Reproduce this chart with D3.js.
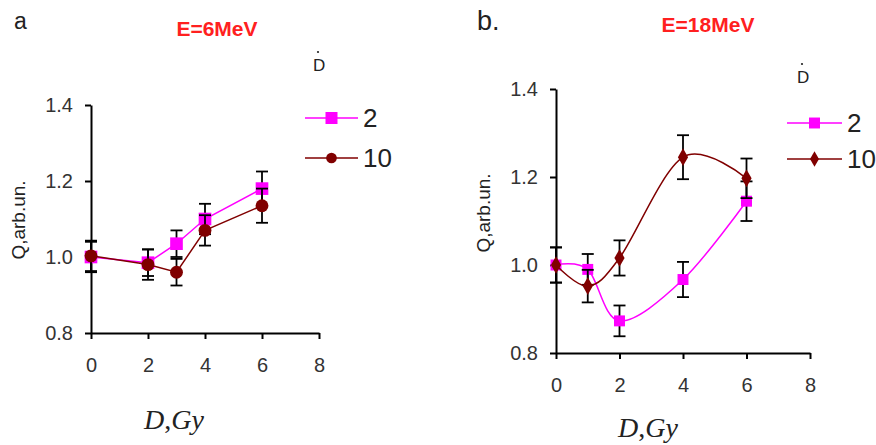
<!DOCTYPE html>
<html>
<head>
<meta charset="utf-8">
<script src="https://cdn.jsdelivr.net/npm/d3@7"></script>
<style>
  body { margin: 0; background: #fff; }
  svg { display: block; }
</style>
</head>
<body>
<svg id="chart" width="876" height="445"></svg>
<script>
"use strict";

// axes
var xTickValues = [0, 2, 4, 6, 8];
var yTickValues = [0.8, 1.0, 1.2, 1.4];

// panel a, E=6MeV
var doseA = [0, 2, 3, 4, 6];
var qA2 = [1.0, 0.985, 1.035, 1.10, 1.18];
var errA2 = [0.04, 0.035, 0.035, 0.04, 0.045];
var qA10 = [1.003, 0.98, 0.96, 1.07, 1.135];
var errA10 = [0.04, 0.04, 0.035, 0.04, 0.045];

// panel b, E=18MeV
var doseB = [0, 1, 2, 4, 6];
var qB2 = [1.0, 0.99, 0.873, 0.967, 1.145];
var errB2 = [0.04, 0.035, 0.035, 0.04, 0.045];
var qB10 = [1.0, 0.952, 1.016, 1.245, 1.197];
var errB10 = [0.04, 0.037, 0.04, 0.05, 0.045];

var seriesNames = ['2', '10'];
var MAGENTA = '#ff00ff', MAROON = '#800000';
var SANS = 'Arial, "Liberation Sans", sans-serif';
var SERIF = '"Times New Roman", "Liberation Serif", serif';

var svg = d3.select('#chart');

function zip(xs, ys, es) {
    return xs.map(function(x, i) { return { x: x, y: ys[i], e: es[i] }; });
}

/**
 * Draw one panel
 */
function drawPanel(opt) {
    var x = d3.scaleLinear().domain([0, 8]).range(opt.xRange);
    var y = d3.scaleLinear().domain([0.8, 1.4]).range(opt.yRange);
    var g = svg.append('g');

    // axes
    var xAxis = g.append('g')
        .attr('transform', 'translate(0,' + opt.yRange[0] + ')')
        .call(d3.axisBottom(x).tickValues(xTickValues).tickSize(6).tickSizeOuter(0).tickPadding(19));
    var yAxis = g.append('g')
        .attr('transform', 'translate(' + opt.xRange[0] + ',0)')
        .call(d3.axisLeft(y).tickValues(yTickValues).tickSize(6).tickSizeOuter(0).tickPadding(12)
            .tickFormat(d3.format('.1f')));
    [xAxis, yAxis].forEach(function(a) {
        a.attr('font-size', 20).attr('font-family', SANS);
        a.select('.domain').attr('stroke', '#000').attr('stroke-width', 2);
        a.selectAll('.tick line').attr('stroke', '#000').attr('stroke-width', 2);
        a.selectAll('.tick text').attr('fill', '#333');
    });

    var line = d3.line()
        .x(function(d) { return x(d.x); })
        .y(function(d) { return y(d.y); })
        .curve(opt.curve);

    opt.series.forEach(function(s) {
        var pts = zip(opt.dose, s.q, s.err);

        g.append('path')
            .datum(pts)
            .attr('fill', 'none')
            .attr('stroke', s.color)
            .attr('stroke-width', 1.5)
            .attr('d', line);

        var eb = g.append('g').selectAll('g').data(pts).join('g');
        eb.append('line')
            .attr('x1', function(d) { return x(d.x); })
            .attr('x2', function(d) { return x(d.x); })
            .attr('y1', function(d) { return y(d.y - d.e); })
            .attr('y2', function(d) { return y(d.y + d.e); })
            .attr('stroke', '#000').attr('stroke-width', 1.8);
        [-1, 1].forEach(function(sign) {
            eb.append('line')
                .attr('x1', function(d) { return x(d.x) - 6; })
                .attr('x2', function(d) { return x(d.x) + 6; })
                .attr('y1', function(d) { return y(d.y + sign * d.e); })
                .attr('y2', function(d) { return y(d.y + sign * d.e); })
                .attr('stroke', '#000').attr('stroke-width', 1.8);
        });

        g.append('g').selectAll('path').data(pts).join('path')
            .attr('transform', function(d) { return 'translate(' + x(d.x) + ',' + y(d.y) + ')'; })
            .attr('d', d3.symbol().type(s.symbol).size(s.size))
            .attr('fill', s.color);
    });

    // legend
    var lg = g.append('g').attr('transform', 'translate(' + opt.legend[0] + ',' + opt.legend[1] + ')');
    lg.append('text')
        .attr('x', opt.legendD[0]).attr('y', opt.legendD[1])
        .attr('font-family', SANS).attr('font-size', 17).attr('fill', '#222')
        .text('D');
    lg.append('circle')
        .attr('cx', opt.legendD[0] + 5).attr('cy', opt.legendD[1] - 19).attr('r', 1.1)
        .attr('fill', '#222');
    opt.series.forEach(function(s, i) {
        var row = lg.append('g').attr('transform', 'translate(0,' + (i * opt.legendGap) + ')');
        row.append('line')
            .attr('x1', 0).attr('x2', opt.legendLen).attr('y1', 0).attr('y2', 0)
            .attr('stroke', s.color).attr('stroke-width', 1.5);
        row.append('path')
            .attr('transform', 'translate(' + opt.legendLen / 2 + ',0)')
            .attr('d', d3.symbol().type(s.symbol).size(s.legendSize))
            .attr('fill', s.color);
        row.append('text')
            .attr('x', opt.legendLen + 5).attr('y', 9)
            .attr('font-family', SANS).attr('font-size', 26).attr('fill', '#222')
            .text(seriesNames[i]);
    });

    // panel letter, energy title
    g.append('text')
        .attr('x', opt.letter[0]).attr('y', opt.letter[1])
        .attr('font-family', SANS).attr('font-size', opt.letterSize)
        .attr('fill', '#222')
        .text(opt.letterText);
    g.append('text')
        .attr('x', opt.title[0]).attr('y', opt.title[1])
        .attr('text-anchor', 'middle')
        .attr('font-family', SANS).attr('font-size', 21).attr('font-weight', 'bold')
        .attr('fill', '#ff2020')
        .text(opt.titleText);

    // axis titles
    g.append('text')
        .attr('transform', 'translate(' + opt.yLabel[0] + ',' + opt.yLabel[1] + ') rotate(-90)')
        .attr('text-anchor', 'middle')
        .attr('font-family', SANS).attr('font-size', 19).attr('fill', '#222')
        .text('Q,arb.un.');
    var xl = g.append('text')
        .attr('x', opt.xLabel[0]).attr('y', opt.xLabel[1])
        .attr('text-anchor', 'middle')
        .attr('font-family', SERIF).attr('font-size', 28)
        .attr('font-style', 'italic').attr('fill', '#222');
    xl.append('tspan').text('D');
    xl.append('tspan').attr('font-style', 'normal').text(',');
    xl.append('tspan').text('Gy');
}

drawPanel({
    xRange: [91, 319], yRange: [333, 105],
    dose: doseA,
    curve: d3.curveLinear,
    series: [
        { q: qA2, err: errA2, color: MAGENTA, symbol: d3.symbolSquare, size: 160, legendSize: 144 },
        { q: qA10, err: errA10, color: MAROON, symbol: d3.symbolCircle, size: 130, legendSize: 90 }
    ],
    legend: [305, 118], legendLen: 53, legendGap: 40, legendD: [8, -47],
    letter: [14, 29], letterSize: 23, letterText: 'a',
    title: [217, 36], titleText: 'E=6MeV',
    yLabel: [25, 220],
    xLabel: [174, 429]
});

drawPanel({
    xRange: [556, 810], yRange: [353, 89],
    dose: doseB,
    curve: d3.curveCardinal.tension(0),
    series: [
        { q: qB2, err: errB2, color: MAGENTA, symbol: d3.symbolSquare, size: 120, legendSize: 120 },
        { q: qB10, err: errB10, color: MAROON, symbol: d3.symbolDiamond, size: 90, legendSize: 70 }
    ],
    legend: [787, 123], legendLen: 55, legendGap: 36, legendD: [10, -40],
    letter: [477, 30], letterSize: 27, letterText: 'b.',
    title: [708, 32], titleText: 'E=18MeV',
    yLabel: [490, 213],
    xLabel: [648, 437]
});
</script>
</body>
</html>
